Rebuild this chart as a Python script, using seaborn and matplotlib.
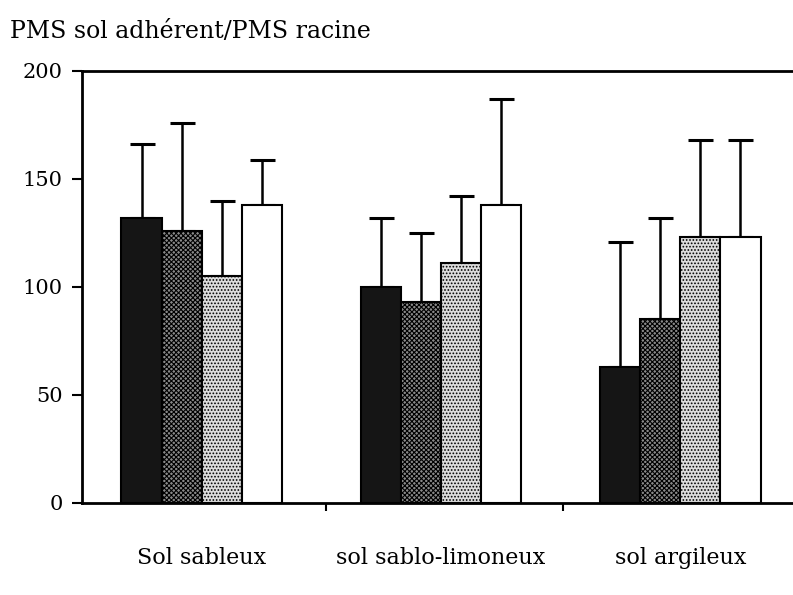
import numpy as np
import pandas as pd
import matplotlib
matplotlib.use('Agg')
import matplotlib.pyplot as plt
import seaborn as sns

# données
sols = ['Sol sableux', 'sol sablo-limoneux', 'sol argileux']
traitements = ['T1', 'T2', 'T3', 'T4']
moyennes = [[132, 126, 105, 138],
            [100, 93, 111, 138],
            [63, 85, 123, 123]]
hauts = [[166, 176, 140, 159],
         [132, 125, 142, 187],
         [121, 132, 168, 168]]

rows = []
for i, s in enumerate(sols):
    for j, t in enumerate(traitements):
        rows.append({'sol': s, 'traitement': t, 'pms': moyennes[i][j], 'haut': hauts[i][j]})
df = pd.DataFrame(rows)

sns.set_style('ticks', {'axes.edgecolor': 'black', 'text.color': 'black',
                        'xtick.color': 'black', 'ytick.color': 'black'})
plt.rcParams['font.family'] = ['DejaVu Serif']
plt.rcParams['hatch.linewidth'] = 0.8

fig = plt.figure(figsize=(7.93, 5.95), dpi=100)
ax = fig.add_axes([82/793, 92/595, 718/793, 432/595])

couleurs = ['#151515', '#8a8a8a', '#dcdcdc', '#ffffff']
sns.barplot(data=df, x='sol', y='pms', hue='traitement', palette=couleurs,
            width=0.67, errorbar=None, edgecolor='black', linewidth=1.5,
            saturation=1, legend=False, ax=ax)

hachures = ['', 'xxxxxxx', '.....', '']
barres = list(ax.containers)
for k, cont in enumerate(barres):
    for p in cont:
        p.set_hatch(hachures[k])
        p.set_zorder(2)

# barres d'erreur (partie haute seulement)
for k, cont in enumerate(barres):
    sub = df[df['traitement'] == traitements[k]]
    xs = [p.get_x() + p.get_width() / 2 for p in cont]
    ys = sub['pms'].values
    up = sub['haut'].values - ys
    ax.errorbar(xs, ys, yerr=[np.zeros_like(up), up], fmt='none',
                ecolor='black', elinewidth=1.8, capsize=9, capthick=2.2, zorder=1)

ax.set_xlim(-0.5, 2.5)
ax.set_ylim(0, 200)
ax.set_yticks([0, 50, 100, 150, 200])
ax.set_xlabel('')
ax.set_ylabel('')
ax.tick_params(axis='y', direction='out', length=7, width=1.5, labelsize=15, pad=7,
               colors='black')
ax.tick_params(axis='x', which='major', length=0, labelsize=16, pad=32, colors='black')
ax.set_xticks([0.52, 1.51], minor=True)
ax.tick_params(axis='x', which='minor', direction='out', length=6, width=1.5, colors='black')

for s in ['left', 'top', 'bottom']:
    ax.spines[s].set_linewidth(2)
    ax.spines[s].set_color('black')
ax.spines['right'].set_visible(False)

fig.text(10/793, 1 - 31/595, 'PMS sol adhérent/PMS racine', fontsize=17,
         va='center', ha='left', color='black')

fig.savefig('out.png', dpi=100)
